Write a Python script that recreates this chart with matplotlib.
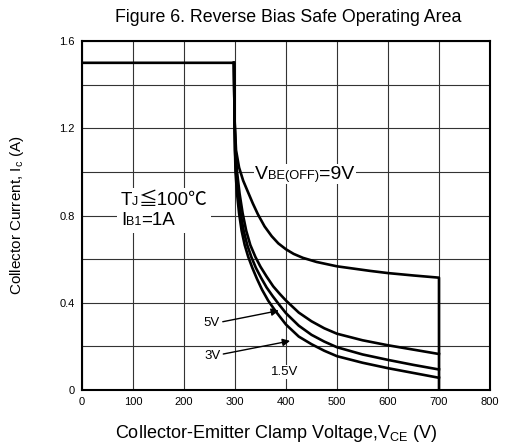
import matplotlib
matplotlib.use('Agg')
import matplotlib.pyplot as plt
from matplotlib.offsetbox import TextArea, HPacker, VPacker, AnnotationBbox

plt.rcParams['font.family'] = ['Liberation Sans', 'Noto Sans CJK SC', 'DejaVu Sans']
plt.rcParams['mathtext.fontset'] = 'custom'
plt.rcParams['mathtext.rm'] = 'Liberation Sans'

# curves (V, A)
v_9v = [0, 298, 299, 302, 308, 316, 325, 335, 345, 358, 372, 385, 400, 415, 433, 460, 500, 565, 600, 650, 700, 700]
i_9v = [1.5, 1.5, 1.25, 1.1, 1.02, 0.96, 0.91, 0.855, 0.805, 0.75, 0.705, 0.672, 0.645, 0.624, 0.606, 0.587, 0.567, 0.546, 0.536, 0.525, 0.515, 0.0]

v_5v = [298, 299, 301, 304, 309, 315, 322, 330, 340, 350, 362, 375, 388, 400, 425, 450, 475, 500, 550, 600, 650, 700]
i_5v = [1.5, 1.25, 1.1, 1.0, 0.9, 0.81, 0.73, 0.665, 0.61, 0.565, 0.52, 0.475, 0.44, 0.41, 0.355, 0.315, 0.283, 0.258, 0.228, 0.205, 0.185, 0.165]

v_3v = [298, 299, 300, 302, 306, 311, 317, 324, 332, 341, 351, 362, 374, 387, 400, 425, 450, 475, 500, 550, 600, 650, 700]
i_3v = [1.5, 1.25, 1.1, 1.0, 0.9, 0.81, 0.73, 0.665, 0.61, 0.56, 0.515, 0.47, 0.43, 0.39, 0.352, 0.295, 0.253, 0.222, 0.196, 0.163, 0.138, 0.115, 0.094]

v_15v = [298, 299, 300, 301, 304, 308, 313, 319, 326, 334, 343, 353, 365, 380, 400, 425, 450, 475, 500, 550, 600, 650, 700]
i_15v = [1.5, 1.25, 1.1, 1.0, 0.9, 0.81, 0.73, 0.665, 0.61, 0.56, 0.51, 0.46, 0.41, 0.36, 0.30, 0.245, 0.21, 0.18, 0.155, 0.125, 0.10, 0.078, 0.056]

x_ticks = [0, 100, 200, 300, 400, 500, 600, 700, 800]
y_ticks = [0, 0.2, 0.4, 0.6, 0.8, 1.0, 1.2, 1.4, 1.6]
y_tick_labels = ['0', '', '0.4', '', '0.8', '', '1.2', '', '1.6']

fig = plt.figure(figsize=(5.05, 4.48), dpi=100)
ax = fig.add_axes([82/505, 58/448, 408/505, 349/448])

for v, i in [(v_9v, i_9v), (v_5v, i_5v), (v_3v, i_3v), (v_15v, i_15v)]:
    ax.plot(v, i, color='black', lw=1.9, solid_joinstyle='round', zorder=3)

ax.set_xlim(0, 800)
ax.set_ylim(0, 1.6)
ax.set_xticks(x_ticks)
ax.set_xticklabels([str(t) for t in x_ticks])
ax.set_yticks(y_ticks)
ax.set_yticklabels(y_tick_labels)
ax.tick_params(length=0, labelsize=8, pad=5)
ax.grid(True, color='#333333', lw=0.8)
ax.set_axisbelow(True)
for s in ax.spines.values():
    s.set_linewidth(1.5)

fig.text(0.570, 0.962, 'Figure 6. Reverse Bias Safe Operating Area', ha='center', va='center', fontsize=12.8)
ax.set_xlabel(r'Collector-Emitter Clamp Voltage,V$_{\mathregular{CE}}$ (V)', fontsize=13, labelpad=11)
ax.xaxis.set_label_coords(0.475, -0.095)
ax.set_ylabel(r'Collector Current, I$_{\mathregular{c}}$ (A)', fontsize=11, labelpad=24)


def piece_row(pieces):
    return HPacker(children=[TextArea(t, textprops=dict(fontsize=s)) for t, s in pieces],
                   align='baseline', pad=0, sep=0)


vbe = piece_row([('V', 14), ('BE(OFF)', 9.3), ('=9V', 14)])
ab = AnnotationBbox(vbe, (339, 0.95), xycoords='data', box_alignment=(0, 0),
                    frameon=True, pad=0.1,
                    bboxprops=dict(facecolor='white', edgecolor='none'), zorder=4)
ax.add_artist(ab)

cond = VPacker(children=[piece_row([('T', 13.5), ('J', 9), ('≦100℃', 13.5)]),
                         piece_row([('I', 13.5), ('B1', 9), ('=1A', 13.5)])],
               align='left', pad=0, sep=2)
ab2 = AnnotationBbox(cond, (76, 0.74), xycoords='data', box_alignment=(0, 0),
                     frameon=True, pad=0.3,
                     bboxprops=dict(facecolor='white', edgecolor='none'), zorder=4)
ax.add_artist(ab2)

arrow = dict(arrowstyle='-|>', color='black', lw=1.0, mutation_scale=11, shrinkA=0, shrinkB=0)
ax.annotate('', xy=(386, 0.364), xytext=(276, 0.313), arrowprops=arrow, zorder=5)
ax.annotate('', xy=(408, 0.225), xytext=(277, 0.165), arrowprops=arrow, zorder=5)
ax.text(254, 0.307, '5V', fontsize=9.5, ha='center', va='center', zorder=5)
ax.text(256, 0.156, '3V', fontsize=9.5, ha='center', va='center', zorder=5)
ax.text(398, 0.083, '1.5V', fontsize=9.5, ha='center', va='center', zorder=5,
        bbox=dict(facecolor='white', edgecolor='none', pad=0.5))

fig.savefig('out.png', dpi=100)
